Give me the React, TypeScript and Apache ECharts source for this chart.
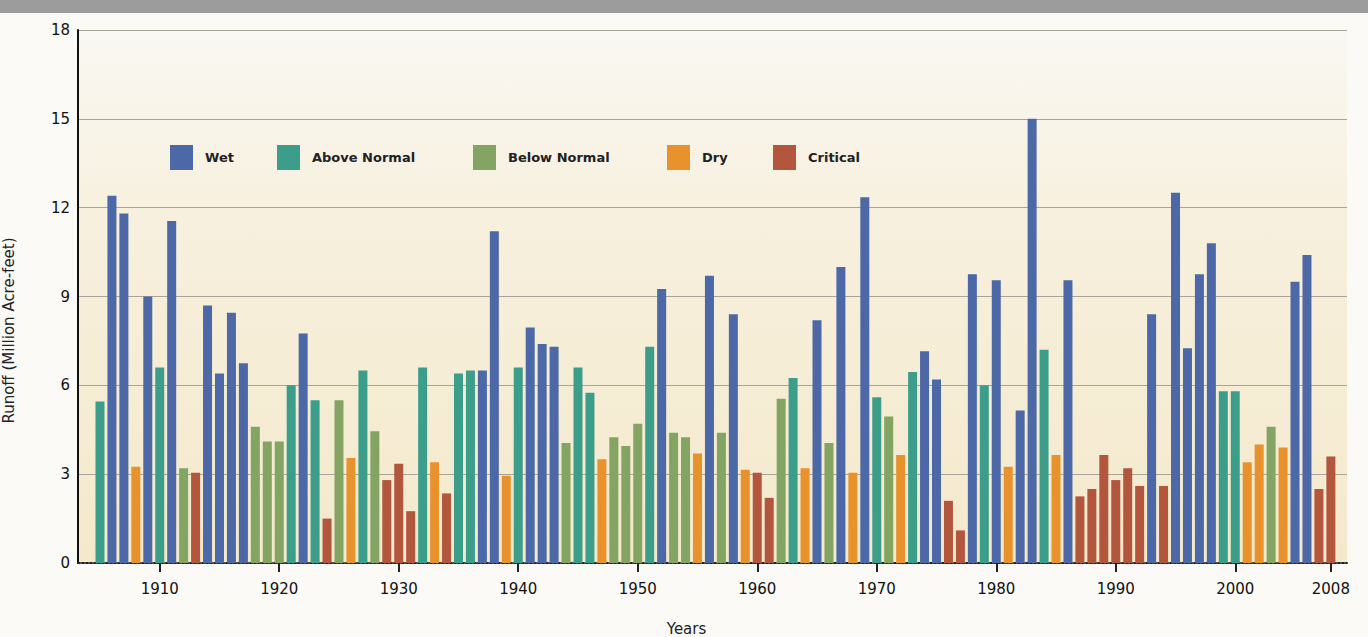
import React, { useEffect, useRef } from "react";
import * as echarts from "echarts";

// Water year types, in legend order
const typeNames = ["Wet", "Above Normal", "Below Normal", "Dry", "Critical"];
const typeCodes = ["W", "AN", "BN", "D", "C"];
const typeColors = ["#4d68a6", "#3c9e8a", "#84a463", "#e8922e", "#b2563d"];

// Water years 1905..2008 (one entry per year)
const firstYear = 1905;
const yearTypes = [
  "AN", "W", "W", "D", "W", "AN", "W", "BN", "C", "W", // 1905-1914
  "W", "W", "W", "BN", "BN", "BN", "AN", "W", "AN", "C", // 1915-1924
  "BN", "D", "AN", "BN", "C", "C", "C", "AN", "D", "C", // 1925-1934
  "AN", "AN", "W", "W", "D", "AN", "W", "W", "W", "BN", // 1935-1944
  "AN", "AN", "D", "BN", "BN", "BN", "AN", "W", "BN", "BN", // 1945-1954
  "D", "W", "BN", "W", "D", "C", "C", "BN", "AN", "D", // 1955-1964
  "W", "BN", "W", "D", "W", "AN", "BN", "D", "AN", "W", // 1965-1974
  "W", "C", "C", "W", "AN", "W", "D", "W", "W", "AN", // 1975-1984
  "D", "W", "C", "C", "C", "C", "C", "C", "W", "C", // 1985-1994
  "W", "W", "W", "W", "AN", "AN", "D", "D", "BN", "D", // 1995-2004
  "W", "W", "C", "C", // 2005-2008
];
const runoff = [
  5.45, 12.4, 11.8, 3.25, 9.0, 6.6, 11.55, 3.2, 3.05, 8.7, // 1905-1914
  6.4, 8.45, 6.75, 4.6, 4.1, 4.1, 6.0, 7.75, 5.5, 1.5, // 1915-1924
  5.5, 3.55, 6.5, 4.45, 2.8, 3.35, 1.75, 6.6, 3.4, 2.35, // 1925-1934
  6.4, 6.5, 6.5, 11.2, 2.95, 6.6, 7.95, 7.4, 7.3, 4.05, // 1935-1944
  6.6, 5.75, 3.5, 4.25, 3.95, 4.7, 7.3, 9.25, 4.4, 4.25, // 1945-1954
  3.7, 9.7, 4.4, 8.4, 3.15, 3.05, 2.2, 5.55, 6.25, 3.2, // 1955-1964
  8.2, 4.05, 10.0, 3.05, 12.35, 5.6, 4.95, 3.65, 6.45, 7.15, // 1965-1974
  6.2, 2.1, 1.1, 9.75, 6.0, 9.55, 3.25, 5.15, 15.0, 7.2, // 1975-1984
  3.65, 9.55, 2.25, 2.5, 3.65, 2.8, 3.2, 2.6, 8.4, 2.6, // 1985-1994
  12.5, 7.25, 9.75, 10.8, 5.8, 5.8, 3.4, 4.0, 4.6, 3.9, // 1995-2004
  9.5, 10.4, 2.5, 3.6, // 2005-2008
];

const xTickYears = [1910, 1920, 1930, 1940, 1950, 1960, 1970, 1980, 1990, 2000, 2008];
const yTicks = [0, 3, 6, 9, 12, 15, 18];
const legendLefts = [165, 272, 468, 662, 768];

const FONT = "'DejaVu Sans', 'Liberation Sans', Arial, sans-serif";

export default function App() {
  const ref = useRef<HTMLDivElement>(null);

  useEffect(() => {
    if (!ref.current) return;
    const chart = echarts.init(ref.current, undefined, { renderer: "svg" });

    const series = typeCodes.map((code, ti) => ({
      name: typeNames[ti],
      type: "bar",
      barWidth: 9,
      barGap: "-100%",
      itemStyle: { color: typeColors[ti] },
      data: runoff
        .map((v, i) => (yearTypes[i] === code ? [firstYear + i, v] : null))
        .filter((d) => d !== null),
    }));

    const legends = typeNames.map((name, i) => ({
      data: [name],
      left: legendLefts[i],
      top: 140,
      itemWidth: 23,
      itemHeight: 25,
      icon: "rect",
      selectedMode: false,
      textStyle: {
        fontFamily: FONT,
        fontSize: 13,
        fontWeight: "bold",
        color: "#222",
        padding: [0, 0, 0, 7],
      },
    }));

    chart.setOption({
      animation: false,
      backgroundColor: "#fbfaf7",
      graphic: [
        {
          type: "rect",
          shape: { x: 0, y: 0, width: 1368, height: 13 },
          style: { fill: "#9c9c9c" },
          z: 10,
        },
        {
          type: "rect",
          shape: { x: 150, y: 126, width: 730, height: 54 },
          style: { fill: "rgba(255,255,255,0.35)" },
          z: -1,
        },
      ],
      grid: {
        left: 78,
        right: 21,
        top: 30,
        bottom: 74,
        outerBoundsMode: "none",
        containLabel: false,
        show: true,
        borderWidth: 0,
        backgroundColor: new echarts.graphic.LinearGradient(0, 0, 0, 1, [
          { offset: 0, color: "#faf8f3" },
          { offset: 0.35, color: "#f7f0de" },
          { offset: 1, color: "#f4e9cc" },
        ]),
      },
      legend: legends,
      xAxis: {
        type: "value",
        min: 1903.16,
        max: 2009.35,
        name: "Years",
        nameLocation: "middle",
        nameGap: 58,
        nameTextStyle: {
          fontFamily: FONT,
          fontSize: 15,
          color: "#222",
          padding: [0, 52, 0, 0],
        },
        splitLine: { show: false },
        axisLine: {
          show: true,
          onZero: false,
          lineStyle: { color: "#222", width: 2, type: "dotted" },
        },
        axisTick: {
          show: true,
          length: 9,
          customValues: xTickYears,
          lineStyle: { color: "#222", width: 2 },
        },
        axisLabel: {
          customValues: xTickYears,
          formatter: (v: number) => String(v),
          fontFamily: FONT,
          fontSize: 15,
          color: "#111",
          margin: 18,
        },
      },
      yAxis: {
        type: "value",
        min: 0,
        max: 18,
        interval: 3,
        name: "Runoff (Million Acre-feet)",
        nameLocation: "middle",
        nameGap: 62,
        nameTextStyle: {
          fontFamily: FONT,
          fontSize: 15,
          color: "#222",
          padding: [0, 68, 0, 0],
        },
        axisLine: { show: true, lineStyle: { color: "#111", width: 2 } },
        axisTick: { show: false },
        axisLabel: {
          customValues: yTicks,
          fontFamily: FONT,
          fontSize: 15,
          color: "#111",
          margin: 8,
        },
        splitLine: { show: true, lineStyle: { color: "#a8a49a", width: 1 } },
      },
      series,
    });

    return () => chart.dispose();
  }, []);

  return (
    <div
      ref={ref}
      style={{ position: "fixed", left: 0, top: 0, width: 1368, height: 637 }}
    />
  );
}
